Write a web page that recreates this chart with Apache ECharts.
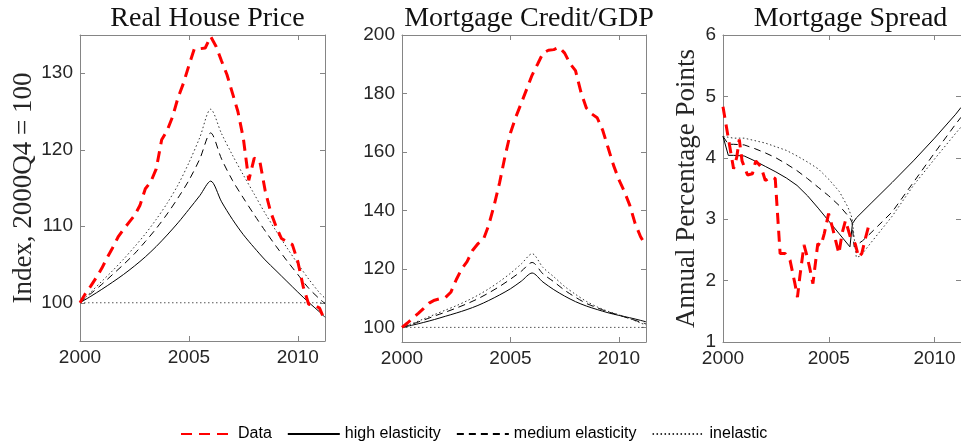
<!DOCTYPE html>
<html>
<head>
<meta charset="utf-8">
<script src="https://cdn.jsdelivr.net/npm/echarts@6/dist/echarts.min.js"></script>
<style>
html,body{margin:0;padding:0;background:#fff;}
#c{width:961px;height:444px;}
</style>
</head>
<body>
<div id="c"></div>
<script>
// ---------- DATA ----------
const titles = ['Real House Price', 'Mortgage Credit/GDP', 'Mortgage Spread'];
const yNames = ['Index, 2000Q4 = 100', '', 'Annual Percentage Points'];
const xTicks = [2000, 2005, 2010];
const yTicks1 = [100, 110, 120, 130];
const yTicks2 = [100, 120, 140, 160, 180, 200];
const yTicks3 = [1, 2, 3, 4, 5, 6];
const legendNames = ['Data', 'high elasticity', 'medium elasticity', 'inelastic'];

// quarterly dates for data series (panels 1 and 2)
const yearsQ = [2000.00,2000.25,2000.50,2000.75,2001.00,2001.25,2001.50,2001.75,2002.00,2002.25,2002.50,2002.75,
  2003.00,2003.25,2003.50,2003.75,2004.00,2004.25,2004.50,2004.75,2005.00,2005.25,2005.50,2005.75,
  2006.00,2006.25,2006.50,2006.75,2007.00,2007.25,2007.50,2007.75,2008.00,2008.25,2008.50,2008.75,
  2009.00,2009.25,2009.50,2009.75,2010.00,2010.25,2010.50,2010.75,2011.00,2011.25];
// half-year dates for model paths (panels 1 and 2)
const yearsH = [2000.0,2000.5,2001.0,2001.5,2002.0,2002.5,2003.0,2003.5,2004.0,2004.5,2005.0,2005.5,
  2006.0,2006.5,2007.0,2007.5,2008.0,2008.5,2009.0,2009.5,2010.0,2010.5,2011.0,2011.25];

// Panel 1: Real House Price
const hpData = [100.0,101.2,102.2,103.3,104.5,105.9,107.2,108.6,109.6,110.5,111.4,112.7,
  114.9,115.8,117.5,121.3,122.5,124.3,126.8,128.7,131.0,133.2,133.2,133.3,
  134.8,133.5,131.6,129.8,127.4,125.0,121.5,116.0,118.9,118.6,114.7,111.9,
  110.0,108.4,108.0,107.6,105.4,102.1,99.8,99.7,99.3,97.6];
const hpHigh = [100.0,100.85,101.75,102.7,103.7,104.8,106.0,107.35,108.85,110.45,112.2,114.0,
  115.9,113.2,110.9,108.9,107.2,105.6,104.2,102.8,101.4,100.05,98.8,98.1];
const hpMed = [100.0,101.2,102.4,103.7,105.0,106.4,108.0,109.7,111.6,113.7,116.0,118.8,
  122.2,118.8,116.0,113.7,111.5,109.4,107.4,105.5,103.7,101.9,100.5,99.9];
const hpInel = [100.0,101.4,102.8,104.2,105.7,107.3,109.0,110.9,113.0,115.4,118.3,121.6,
  125.3,122.1,119.3,116.7,114.2,111.7,109.4,107.2,105.1,103.1,101.3,100.6];

// Panel 2: Mortgage Credit / GDP
const mcData = [100.0,101.5,103.2,104.8,106.5,108.3,109.3,109.8,110.2,112.0,116.3,120.0,
  122.5,126.3,128.6,130.0,135.0,141.8,149.5,158.5,166.5,172.0,176.7,181.5,
  186.3,190.0,193.8,194.8,195.0,195.8,193.8,190.2,187.8,180.5,175.0,173.0,
  171.7,167.5,161.5,155.5,150.5,146.5,141.8,135.5,131.0,127.8];
const mcHigh = [100.0,100.8,101.7,102.7,103.8,104.9,106.1,107.5,109.2,111.1,113.2,115.8,
  118.6,115.5,112.9,110.7,108.8,107.3,106.1,105.0,104.1,103.3,102.4,101.9];
const mcMed = [100.0,101.2,102.5,103.9,105.2,106.6,108.1,109.8,111.8,114.0,116.5,119.2,
  122.2,118.3,115.6,112.7,110.3,108.2,106.7,105.3,104.2,103.0,101.8,101.2];
const mcInel = [100.0,101.4,102.9,104.4,105.9,107.4,109.1,111.0,113.2,115.7,118.5,121.7,
  125.2,120.5,117.3,114.0,111.3,108.9,107.0,105.5,104.3,103.0,101.5,100.8];

// reference (steady-state) level for panels 1 and 2
const baseYears = [2000, 2011.25];
const baseLevel = [100, 100];

// Panel 3: Mortgage Spread
const spYears = [2000.0,2000.5,2000.65,2000.77,2000.9,2001.16,2001.39,2001.55,2001.8,2002.0,2002.31,2002.47,
  2002.7,2002.94,2003.17,2003.4,2003.52,2003.63,2003.83,2003.94,2004.09,2004.25,2004.48,2004.63,
  2004.79,2004.99,2005.17,2005.32,2005.48,2005.63,2005.79,2006.02,2006.25,2006.41,2006.56,2006.71,
  2006.87,2007.02];
const spData = [4.83,3.82,4.01,4.30,3.95,3.72,3.74,3.95,3.85,3.63,3.69,3.66,
  2.44,2.44,2.33,1.95,1.73,2.06,2.58,2.44,2.22,1.95,2.60,2.57,
  2.77,3.09,2.87,2.66,2.44,2.77,2.98,2.71,2.60,2.38,2.44,2.66,
  2.87,2.82];
const spHighYears = [2000.0,2000.25,2000.5,2001.0,2001.5,2002.0,2002.5,2003.0,2003.5,2004.0,2004.5,2005.0,
  2005.5,2006.0,2006.12,2006.3,2007.0,2008.0,2009.0,2010.0,2011.0,2011.25];
const spHigh = [4.35,4.04,4.04,4.03,3.95,3.86,3.77,3.67,3.55,3.38,3.18,2.97,
  2.76,2.55,2.93,3.02,3.26,3.60,3.95,4.32,4.71,4.82];
const spMedYears = [2000.0,2000.25,2000.5,2001.0,2001.5,2002.0,2002.5,2003.0,2003.5,2004.0,2004.5,2005.0,
  2005.5,2006.0,2006.1,2006.2,2006.6,2007.0,2008.0,2009.0,2010.0,2011.0,2011.25];
const spMed = [4.35,4.22,4.22,4.21,4.15,4.08,4.00,3.90,3.79,3.66,3.52,3.38,
  3.22,3.02,2.95,2.55,2.65,2.78,3.12,3.60,4.08,4.55,4.66];
const spInelYears = [2000.0,2000.5,2001.0,2001.5,2002.0,2002.5,2003.0,2003.5,2004.0,2004.5,2005.0,2005.5,
  2005.9,2006.1,2006.3,2006.5,2007.0,2008.0,2009.0,2010.0,2011.0,2011.25];
const spInel = [4.35,4.32,4.32,4.28,4.24,4.18,4.12,4.03,3.93,3.82,3.65,3.45,
  3.20,3.02,2.38,2.40,2.62,3.05,3.55,3.98,4.40,4.50];

// ---------- CHART ----------
const zip = (xs, ys) => xs.map((x, i) => [x, ys[i]]);
const axisGray = '#858585';
const txt = '#262626';
const serif = '"Liberation Serif", "Times New Roman", serif';
const sans = '"Liberation Sans", Arial, Helvetica, sans-serif';

const grids = [
  {left: 80, top: 35, width: 245, height: 306},
  {left: 402, top: 35, width: 244, height: 307},
  {left: 723, top: 35, width: 245, height: 307}
];
const yRanges = [[95, 135, yTicks1], [95, 200, yTicks2], [1, 6, yTicks3]];
const nameGaps = [40, 30, 23];

const xAxes = [], yAxes = [];
grids.forEach((g, i) => {
  xAxes.push({
    type: 'value', gridIndex: i, min: 2000, max: 2011.25, position: 'bottom',
    axisLine: {show: true, onZero: false, lineStyle: {color: axisGray, width: 1}},
    axisTick: {show: true, inside: true, length: 5, customValues: xTicks, lineStyle: {color: axisGray}},
    axisLabel: {show: true, customValues: xTicks, formatter: v => String(v),
      color: txt, fontFamily: sans, fontSize: 19, margin: 7},
    splitLine: {show: false}
  });
  xAxes.push({
    type: 'value', gridIndex: i, min: 2000, max: 2011.25, position: 'top',
    axisLine: {show: true, onZero: false, lineStyle: {color: axisGray, width: 1}},
    axisTick: {show: true, inside: true, length: 5, customValues: xTicks, lineStyle: {color: axisGray}},
    axisLabel: {show: false}, splitLine: {show: false}
  });
  const [mn, mx, tk] = yRanges[i];
  yAxes.push({
    type: 'value', gridIndex: i, min: mn, max: mx, position: 'left',
    name: yNames[i], nameLocation: 'middle', nameGap: nameGaps[i],
    nameTextStyle: {fontFamily: serif, fontSize: 27, color: txt},
    axisLine: {show: true, onZero: false, lineStyle: {color: axisGray, width: 1}},
    axisTick: {show: true, inside: true, length: 5, customValues: tk, lineStyle: {color: axisGray}},
    axisLabel: {show: true, customValues: tk, formatter: v => String(v),
      color: txt, fontFamily: sans, fontSize: 19, margin: 7},
    splitLine: {show: false}
  });
  yAxes.push({
    type: 'value', gridIndex: i, min: mn, max: mx, position: 'right',
    axisLine: {show: true, onZero: false, lineStyle: {color: axisGray, width: 1}},
    axisTick: {show: true, inside: true, length: 5, customValues: tk, lineStyle: {color: axisGray}},
    axisLabel: {show: false}, splitLine: {show: false}
  });
});

function line(name, data, gi, style) {
  return Object.assign({
    name: name, type: 'line', data: data,
    xAxisIndex: gi * 2, yAxisIndex: gi * 2,
    symbol: 'none', smooth: false, animation: false, silent: true
  }, style);
}
const redStyle = {lineStyle: {color: '#ff0000', width: 3, type: [11, 7]}, itemStyle: {color: '#ff0000'}, z: 5};
const hiStyle = {lineStyle: {color: '#000000', width: 1, type: 'solid'}, itemStyle: {color: '#000'}};
const medStyle = {lineStyle: {color: '#000000', width: 1, type: [7, 5]}, itemStyle: {color: '#000'}};
const inStyle = {lineStyle: {color: '#333333', width: 1, type: [1.5, 2.5]}, itemStyle: {color: '#333'}};
const baseStyle = {lineStyle: {color: '#555555', width: 1, type: [1.5, 2.5]}};

const series = [
  line('base1', zip(baseYears, baseLevel), 0, baseStyle),
  line('high elasticity', zip(yearsH, hpHigh), 0, Object.assign({smooth: 0.3}, hiStyle)),
  line('medium elasticity', zip(yearsH, hpMed), 0, Object.assign({smooth: 0.3}, medStyle)),
  line('inelastic', zip(yearsH, hpInel), 0, Object.assign({smooth: 0.3}, inStyle)),
  line('Data', zip(yearsQ, hpData), 0, redStyle),

  line('base2', zip(baseYears, baseLevel), 1, baseStyle),
  line('high elasticity', zip(yearsH, mcHigh), 1, Object.assign({smooth: 0.3}, hiStyle)),
  line('medium elasticity', zip(yearsH, mcMed), 1, Object.assign({smooth: 0.3}, medStyle)),
  line('inelastic', zip(yearsH, mcInel), 1, Object.assign({smooth: 0.3}, inStyle)),
  line('Data', zip(yearsQ, mcData), 1, redStyle),

  line('high elasticity', zip(spHighYears, spHigh), 2, hiStyle),
  line('medium elasticity', zip(spMedYears, spMed), 2, medStyle),
  line('inelastic', zip(spInelYears, spInel), 2, inStyle),
  line('Data', zip(spYears, spData), 2, redStyle)
];

const chart = echarts.init(document.getElementById('c'), null, {renderer: 'canvas'});
chart.setOption({
  animation: false,
  backgroundColor: '#ffffff',
  title: titles.map((t, i) => ({
    text: t, left: grids[i].left + grids[i].width / 2, top: 0, textAlign: 'center',
    textStyle: {fontFamily: serif, fontSize: 28, fontWeight: 'normal', color: '#111'}
  })),
  legend: {
    data: legendNames, left: 175, top: 421, itemWidth: 52, itemHeight: 14, itemGap: 15,
    selectedMode: false,
    itemStyle: {opacity: 0},
    textStyle: {fontFamily: sans, fontSize: 16, color: '#000', padding: [0, 0, 0, 0]}
  },
  grid: grids.map(g => Object.assign({containLabel: false}, g)),
  xAxis: xAxes,
  yAxis: yAxes,
  series: series
});
</script>
</body>
</html>
